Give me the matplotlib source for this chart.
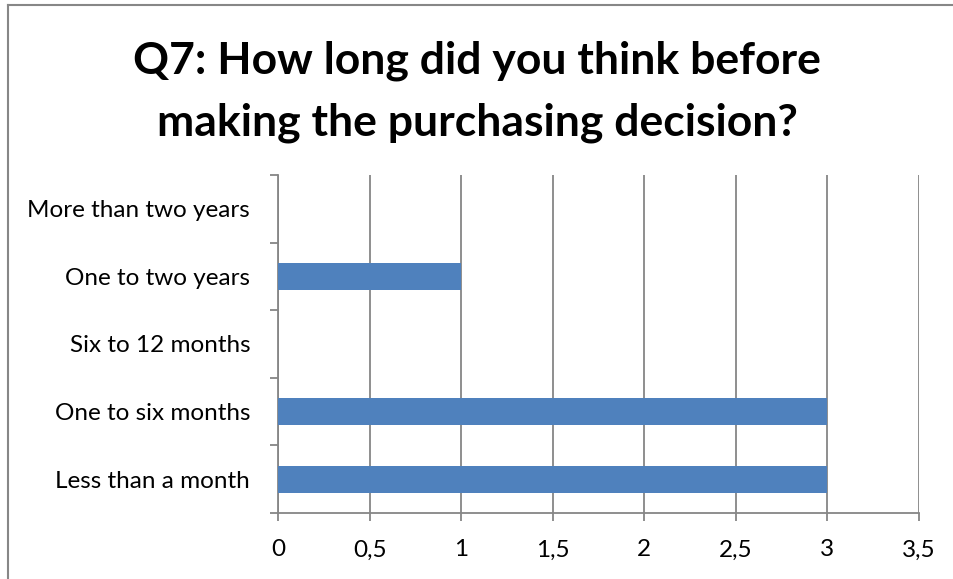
import matplotlib.pyplot as plt
from matplotlib.lines import Line2D
from matplotlib.ticker import FuncFormatter, MultipleLocator

# Survey answers, bottom to top as in the chart
categories = ['Less than a month', 'One to six months', 'Six to 12 months',
              'One to two years', 'More than two years']
counts = [3, 3, 0, 1, 0]

title = 'Q7: How long did you think before\nmaking the purchasing decision?'

bar_color = '#4F81BD'
grid_color = '#868686'

plt.rcParams['font.family'] = ['Lato', 'DejaVu Sans']

fig = plt.figure(figsize=(9.54, 5.79), dpi=100)
ax = fig.add_axes([278 / 954, 1 - 513 / 579, (919 - 278) / 954, (513 - 175) / 579])

ax.barh(range(len(categories)), counts, height=0.4, color=bar_color, zorder=3)

ax.set_xlim(0, 3.5)
ax.set_ylim(-0.5, len(categories) - 0.5)
ax.xaxis.set_major_locator(MultipleLocator(0.5))
ax.xaxis.set_major_formatter(FuncFormatter(lambda v, p: ('%g' % v).replace('.', ',')))
ax.set_yticks(range(len(categories)))
ax.set_yticklabels(categories)
ax.set_yticks([i - 0.5 for i in range(len(categories) + 1)], minor=True)

ax.grid(axis='x', color=grid_color, linewidth=1.3, zorder=0)
for s in ['top', 'right']:
    ax.spines[s].set_visible(False)
for s in ['left', 'bottom']:
    ax.spines[s].set_color(grid_color)
    ax.spines[s].set_linewidth(1.3)

ax.tick_params(axis='x', length=6, width=1.3, color=grid_color, pad=13, labelsize=17.5)
ax.tick_params(axis='y', which='major', length=0, pad=20, labelsize=17.5)
ax.tick_params(axis='y', which='minor', length=6, width=1.3, color=grid_color)

fig.text(0.5, 1 - 92 / 579, title, ha='center', va='center', fontsize=32,
         fontweight='bold', linespacing=1.65)

# chart area border (cropped at right and bottom)
fig.add_artist(Line2D([8 / 954, 1], [1 - 5 / 579, 1 - 5 / 579], color='#878787', linewidth=1.5))
fig.add_artist(Line2D([8 / 954, 8 / 954], [0, 1 - 5 / 579], color='#878787', linewidth=1.5))

fig.savefig('out.png', dpi=100)
